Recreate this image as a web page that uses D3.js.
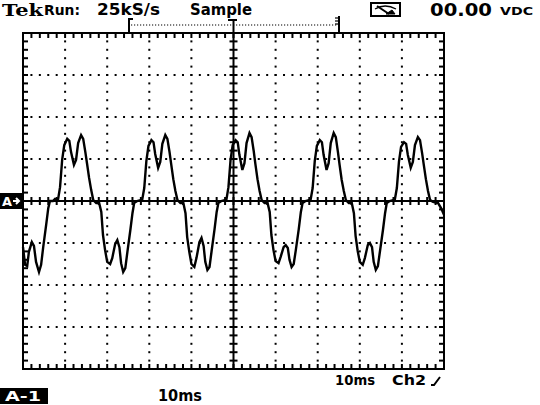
<!DOCTYPE html>
<html><head><meta charset="utf-8">
<script src="https://cdn.jsdelivr.net/npm/d3@7"></script>
<style>html,body{margin:0;padding:0;background:#fff;}svg{display:block;}</style>
</head><body>
<svg id="c" width="540" height="405"></svg>
<script>
// ---- data (time in ms, Ch2 in screen divisions) ----
const traceTime = [
 0.0,0.5,1.0,1.4,2.1,2.6,3.1,3.8,4.3,4.8,5.5,6.0,6.4,7.1,7.6,
 8.3,8.8,9.3,9.8,10.5,11.0,11.4,12.1,12.6,13.1,13.8,14.3,14.8,15.2,15.7,16.2,16.7,17.4,18.1,18.6,19.0,19.5,20.0,20.7,21.2,21.9,22.4,22.9,23.3,23.8,24.3,24.8,25.5,26.0,26.4,27.1,27.9,
 28.3,28.8,29.3,29.8,30.5,31.0,31.4,32.1,32.6,33.1,33.8,34.3,34.8,35.2,35.7,36.2,36.7,37.4,38.1,38.6,39.0,39.5,40.0,40.7,41.2,41.9,42.4,42.9,43.3,43.8,44.3,44.8,45.5,46.0,46.4,47.1,47.9,
 48.3,48.8,49.3,49.8,50.5,51.0,51.4,52.1,52.6,53.1,53.8,54.3,54.8,55.2,55.7,56.2,56.7,57.4,58.1,58.6,59.0,59.5,60.0,60.7,61.2,61.9,62.4,62.9,63.3,63.8,64.3,64.8,65.5,66.0,66.4,67.1,67.9,
 68.3,68.8,69.3,69.8,70.5,71.0,71.4,72.1,72.6,73.1,73.8,74.3,74.8,75.2,75.7,76.2,76.7,77.4,78.1,78.6,79.0,79.5,80.0,80.7,81.2,81.9,82.4,82.9,83.3,83.8,84.3,84.8,85.5,86.0,86.4,87.1,87.9,
 88.3,88.8,89.3,89.8,90.5,91.0,91.4,92.1,92.6,93.1,93.8,94.3,94.8,95.2,95.7,96.2,96.7,97.4,98.6,99.3,100.0
];
const ch2Div = [
 -1.10,-1.52,-1.55,-1.21,-0.98,-1.07,-1.45,-1.69,-1.52,-1.10,-0.57,-0.17,0.00,0.00,0.05,
 0.02,0.33,0.98,1.33,1.48,1.43,1.17,0.86,0.98,1.38,1.57,1.48,1.17,0.90,0.55,0.26,0.02,-0.05,-0.05,-0.26,-0.81,-1.17,-1.45,-1.50,-1.36,-1.02,-0.93,-1.10,-1.48,-1.69,-1.60,-1.21,-0.69,-0.29,-0.05,0.00,0.02,
 0.02,0.31,0.95,1.31,1.45,1.40,1.12,0.79,0.93,1.36,1.57,1.48,1.17,0.88,0.52,0.24,0.02,-0.05,-0.05,-0.29,-0.86,-1.21,-1.50,-1.57,-1.36,-0.98,-0.88,-1.07,-1.45,-1.64,-1.57,-1.19,-0.67,-0.26,-0.05,0.00,0.02,
 0.02,0.33,0.98,1.33,1.45,1.40,1.10,0.74,0.90,1.38,1.62,1.52,1.19,0.88,0.52,0.24,0.02,-0.05,-0.05,-0.26,-0.81,-1.17,-1.43,-1.48,-1.33,-1.10,-1.05,-1.12,-1.40,-1.57,-1.50,-1.17,-0.67,-0.26,-0.05,0.00,0.02,
 0.02,0.31,0.95,1.31,1.45,1.40,1.10,0.74,0.90,1.38,1.62,1.52,1.17,0.86,0.50,0.24,0.02,-0.05,-0.05,-0.29,-0.83,-1.19,-1.45,-1.52,-1.36,-1.05,-1.00,-1.10,-1.45,-1.64,-1.55,-1.19,-0.69,-0.29,-0.05,0.00,0.02,
 0.02,0.31,0.93,1.29,1.40,1.36,1.10,0.79,0.93,1.33,1.52,1.45,1.14,0.86,0.52,0.24,0.02,-0.02,-0.05,-0.17,-0.33
];
const timeDomain = [0, 100];     // 10 ms/div, 10 divisions
const divDomain = [-4, 4];       // 8 vertical divisions
const topLabels = {brand: "Tek", run: "Run:", rate: "25kS/s", mode: "Sample", meter: "00.00", unit: "VDC"};
const bottomLabels = {menu: "A-1", timebase: "10ms", status: "10ms", channel: "Ch2"};

// ---- drawing ----
const svg = d3.select("#c");
const x = d3.scaleLinear().domain(timeDomain).range([23, 444]);
const y = d3.scaleLinear().domain(divDomain).range([369, 33]);
const ink = "#000";

// dotted graticule
const g = svg.append("g");
const minorT = d3.range(0, 100.001, 2);
const minorV = d3.range(-4, 4.001, 0.2);
[10,20,30,40,60,70,80,90].forEach(t => {
  g.selectAll(null).data(minorV).enter().append("rect")
    .attr("x", x(t)-1).attr("y", d => y(d)-1).attr("width", 2).attr("height", 2).attr("fill", ink);
});
[-3,-2,-1,1,2,3].forEach(v => {
  g.selectAll(null).data(minorT).enter().append("rect")
    .attr("x", d => x(d)-1).attr("y", y(v)-1).attr("width", 2).attr("height", 2).attr("fill", ink);
});

// center axes with ticks
const axG = svg.append("g").attr("stroke", ink).attr("stroke-width", 2);
axG.append("line").attr("x1", x(0)).attr("x2", x(100)).attr("y1", y(0)).attr("y2", y(0));
axG.append("line").attr("x1", x(50)).attr("x2", x(50)).attr("y1", y(-4)).attr("y2", y(4));
axG.selectAll(null).data(minorT).enter().append("line")
  .attr("x1", d => x(d)).attr("x2", d => x(d)).attr("y1", y(0)-4).attr("y2", y(0)+4);
axG.selectAll(null).data(minorV).enter().append("line")
  .attr("y1", d => y(d)).attr("y2", d => y(d)).attr("x1", x(50)-4).attr("x2", x(50)+4);

// frame ticks (inside)
axG.selectAll(null).data(minorT).enter().append("line")
  .attr("x1", d => x(d)).attr("x2", d => x(d)).attr("y1", y(4)).attr("y2", y(4)+5);
axG.selectAll(null).data(minorT).enter().append("line")
  .attr("x1", d => x(d)).attr("x2", d => x(d)).attr("y1", y(-4)).attr("y2", y(-4)-5);
axG.selectAll(null).data(minorV).enter().append("line")
  .attr("y1", d => y(d)).attr("y2", d => y(d)).attr("x1", x(0)).attr("x2", x(0)+5);
axG.selectAll(null).data(minorV).enter().append("line")
  .attr("y1", d => y(d)).attr("y2", d => y(d)).attr("x1", x(100)).attr("x2", x(100)-5);
// frame
svg.append("rect").attr("x", x(0)).attr("y", y(4)).attr("width", x(100)-x(0)).attr("height", y(-4)-y(4))
  .attr("fill", "none").attr("stroke", ink).attr("stroke-width", 2);

// trace
const pts = traceTime.map((t, i) => [t, ch2Div[i]]);
svg.append("path").datum(pts)
  .attr("d", d3.line().x(d => x(d[0])).y(d => y(d[1])))
  .attr("fill", "none").attr("stroke", ink).attr("stroke-width", 2.4).attr("stroke-linejoin", "miter");

// ---- header ----
const sans = "'DejaVu Sans', sans-serif";
function txt(s, xx, yy, size, len, opts = {}) {
  const t = svg.append("text").attr("x", xx).attr("y", yy).text(s)
    .attr("font-family", opts.family || sans).attr("font-weight", "bold")
    .attr("font-size", size).attr("fill", opts.fill || ink);
  if (len) t.attr("textLength", len).attr("lengthAdjust", "spacingAndGlyphs");
  return t;
}
txt(topLabels.brand, 2, 16, 17, 41, {family: "'DejaVu Serif', serif"});
txt(topLabels.run, 44, 15, 14, 36);
txt(topLabels.rate, 97, 15, 15, 63);
txt(topLabels.mode, 190, 15, 15, 62);
txt(topLabels.meter, 430, 16, 17, 62);
txt(topLabels.unit, 500, 15, 10, 33);

// trigger position bar
const tb = svg.append("g").attr("stroke", ink).attr("stroke-width", 2).attr("fill", "none");
tb.append("line").attr("x1", 129).attr("x2", 129).attr("y1", 18).attr("y2", 33);
tb.append("line").attr("x1", 129).attr("x2", 133).attr("y1", 19).attr("y2", 19);
tb.append("line").attr("x1", 131).attr("x2", 338).attr("y1", 25).attr("y2", 25)
  .attr("stroke-width", 1.2).attr("stroke-dasharray", "1.2 1.8");
tb.append("line").attr("x1", 228).attr("x2", 237).attr("y1", 20).attr("y2", 20);
tb.append("line").attr("x1", x(50)).attr("x2", x(50)).attr("y1", 20).attr("y2", 33);
tb.append("line").attr("x1", 339).attr("x2", 339).attr("y1", 16).attr("y2", 33);
[18, 21, 24].forEach(v => tb.append("line").attr("x1", 335).attr("x2", 339).attr("y1", v).attr("y2", v).attr("stroke-width", 1.2));

// meter icon
const mi = svg.append("g").attr("stroke", ink).attr("fill", "none");
mi.append("rect").attr("x", 371).attr("y", 3).attr("width", 29).attr("height", 13).attr("stroke-width", 2);
mi.append("path").attr("d", "M375,9 Q385,3 396,9").attr("stroke-width", 1.3);
mi.append("path").attr("d", "M377,6 L389,14").attr("stroke-width", 2);
mi.append("path").attr("d", "M386,14 L395,14 L392,10 Z").attr("fill", ink).attr("stroke-width", 1);

// ground marker "A→"
svg.append("rect").attr("x", 0).attr("y", y(0)-8).attr("width", 22).attr("height", 16).attr("fill", ink);
txt("A", 2, y(0)+5, 13, 10, {fill: "#fff"});
svg.append("path").attr("d", `M13,${y(0)} L19,${y(0)} M16,${y(0)-3} L19,${y(0)} L16,${y(0)+3}`)
  .attr("stroke", "#fff").attr("stroke-width", 2).attr("fill", "none");

// ---- footer ----
svg.append("rect").attr("x", 0).attr("y", 388).attr("width", 48).attr("height", 16).attr("fill", ink);
txt(bottomLabels.menu, 5, 401, 14, 36, {fill: "#fff"});
txt(bottomLabels.timebase, 158, 401, 15, 44);
txt(bottomLabels.status, 335, 385, 14, 40);
txt(bottomLabels.channel, 392, 385, 14, 34);
svg.append("path").attr("d", "M431,385 L434,385 L440,377").attr("stroke", ink).attr("stroke-width", 2).attr("fill", "none");
</script>
</body></html>
